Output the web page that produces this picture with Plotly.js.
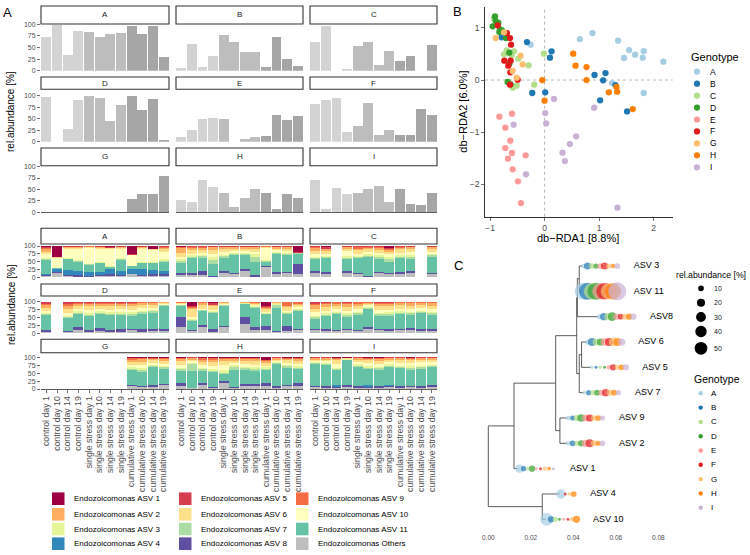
<!DOCTYPE html>
<html><head><meta charset="utf-8">
<script src="https://cdn.plot.ly/plotly-3.0.1.min.js"></script>
<style>body{margin:0;background:#fff}#chart{width:750px;height:555px}</style>
</head><body><div id="chart"></div>
<script>
const W=750,H=555;
// ---------- data ----------
const genotypes=['A','B','C','D','E','F','G','H','I'];
const samples=['control day 1','control day 10','control day 14','control day 19','single stress day 1','single stress day 10','single stress day 14','single stress day 19','cumulative stress day 1','cumulative stress day 10','cumulative stress day 14','cumulative stress day 19'];
const sampleTreatment=[0,0,0,0,1,1,1,1,2,2,2,2];
// total Endozoicomonas relative abundance per genotype (12 samples each)
const totA=[73,98,34,86,83,72,79,81,97,78,96,29];
const totB=[6,58,8,32,77,62,40,41,9,72,26,11];
const totC=[62,96,0,4,53,61,12,42,21,32,0,55];
const totD=[97,0,27,91,100,96,44,79,100,70,93,4];
const totE=[11,25,50,51,50,0,5,11,13,59,47,56];
const totF=[83,91,96,22,34,84,15,26,15,15,72,57];
const totG=[0,0,0,0,0,0,0,0,29,39,39,80];
const totH=[28,22,71,55,42,11,32,51,42,7,39,31];
const totI=[71,7,54,41,42,50,58,23,50,18,15,43];
// stack order (bottom -> top)
const asvNames=['Endozoicomonas Others','Endozoicomonas ASV 8','Endozoicomonas ASV 4','Endozoicomonas ASV 11','Endozoicomonas ASV 7','Endozoicomonas ASV 3','Endozoicomonas ASV 10','Endozoicomonas ASV 6','Endozoicomonas ASV 2','Endozoicomonas ASV 9','Endozoicomonas ASV 5','Endozoicomonas ASV 1'];
const asvColors=['#BEBEBE','#5E4FA2','#3288BD','#66C2A5','#ABDDA4','#E6F598','#FFFFBF','#FEE08B','#FDAE61','#F46D43','#D53E4F','#9E0142'];
const Z=[0,0,0,0,0,0,0,0,0,0,0,0];
const compA=[[5,3,4,43,3,4,11,9,8,5,2,3],[15,2,10,3,0,0,32,2,0,0,1,35],[3,5,14,36,2,2,30,3,2,1,1,1],[2,6,12,30,2,3,37,3,2,1,1,1],[2,3,13,22,1,2,50,3,2,1,0,1],[3,5,10,27,1,2,44,3,2,1,1,1],[3,7,17,5,1,2,56,2,1,1,1,4],[3,5,12,36,2,3,30,4,2,1,1,1],[10,2,13,10,0,1,34,1,0,0,2,27],[3,5,17,20,1,2,44,3,2,1,1,1],[5,7,10,23,1,2,40,2,1,0,1,8],[5,5,10,30,3,4,23,10,5,3,1,1]];
const compB=[[8,7,0,30,8,5,8,12,15,3,2,2],[7,7,0,47,5,4,6,10,8,3,2,1],[8,12,0,42,5,5,6,10,7,3,1,1],[2,2,0,40,12,8,10,12,10,2,1,1],[15,5,0,42,5,5,8,10,6,2,1,1],[10,5,0,55,4,4,6,8,5,1,1,1],[20,5,0,45,5,4,6,7,5,1,1,1],[2,6,0,42,15,8,8,10,6,1,1,1],[32,3,0,15,2,3,40,2,1,1,0,1],[12,6,0,57,3,3,5,6,5,1,1,1],[15,3,0,52,4,4,6,7,6,1,1,1],[10,32,0,33,2,2,0,0,0,0,3,18]];
const compC=[[15,5,0,38,4,4,8,10,10,3,2,1],[10,8,0,44,3,4,6,10,5,2,5,3],Z,[15,5,0,40,3,5,15,8,5,2,1,1],[12,3,0,47,3,4,6,12,5,6,1,1],[2,3,0,60,4,4,8,8,6,3,1,1],[15,2,0,43,5,5,8,10,6,3,2,1],[10,5,0,35,8,6,10,8,6,3,4,5],[12,4,0,45,5,5,8,10,6,3,1,1],[15,5,0,40,5,5,10,10,6,2,1,1],Z,[10,3,0,52,5,4,8,8,6,2,1,1]];
const compD=[[5,6,0,46,3,4,6,10,8,5,5,2],Z,[3,5,0,40,3,4,10,12,10,6,5,2],[10,10,0,40,4,5,8,10,7,3,2,1],[5,7,0,43,4,5,10,11,8,4,2,1],[8,8,0,44,4,5,8,10,7,3,2,1],[5,7,0,45,4,5,9,10,8,4,2,1],[5,10,0,43,4,5,9,10,7,4,2,1],[10,5,0,40,5,6,9,10,8,4,2,1],[5,8,0,49,4,5,8,9,7,3,1,1],[8,7,0,50,4,4,7,8,7,3,1,1],[8,7,0,72,2,2,2,3,2,1,1,0]];
const compE=[[20,30,0,35,3,2,2,3,2,2,1,0],[8,4,0,28,3,2,5,28,2,2,4,14],[20,5,0,45,3,2,3,12,5,3,1,1],[5,8,0,52,3,3,4,10,3,2,5,5],[20,3,0,62,3,2,3,3,2,1,1,0],Z,[30,20,0,42,2,1,1,1,1,1,1,0],[10,10,0,60,4,3,3,4,3,2,1,0],[12,10,0,38,2,2,4,8,4,3,2,15],[5,1,0,74,10,2,2,2,2,1,1,0],[8,14,0,40,3,3,4,10,3,13,1,1],[10,5,0,57,3,3,4,6,4,6,1,1]];
const compF=[[10,5,0,30,5,6,10,12,10,6,4,2],[8,6,0,40,4,5,9,11,9,5,2,1],[7,5,0,48,4,4,8,10,8,4,1,1],[10,5,0,38,5,5,9,11,9,5,2,1],[7,5,0,47,4,5,8,10,8,4,1,1],[15,5,0,58,3,3,4,5,4,2,1,0],[10,5,0,40,5,5,9,11,8,4,2,1],[8,6,0,42,5,5,9,10,8,4,2,1],[10,5,0,45,5,5,8,10,7,3,1,1],[12,6,0,40,5,5,9,10,8,3,1,1],[8,5,0,50,4,5,8,9,7,2,1,1],[6,7,0,45,5,5,9,10,8,3,1,1]];
const compG=[Z,Z,Z,Z,Z,Z,Z,Z,[8,6,0,46,4,5,7,10,7,4,2,1],[6,5,0,44,5,6,9,11,8,4,1,1],[7,5,0,58,3,4,6,7,5,3,1,1],[12,4,0,48,4,5,7,8,6,4,1,1]];
const compH=[[10,8,0,40,4,5,10,11,7,3,1,1],[3,0,0,55,20,5,5,5,4,2,1,0],[12,8,0,38,4,5,8,10,8,5,1,1],[2,4,0,48,4,5,9,12,8,5,2,1],[20,4,0,22,6,8,15,12,8,3,1,1],[3,2,0,55,10,5,6,8,6,3,1,1],[10,6,0,45,4,5,8,10,7,3,1,1],[10,6,0,42,5,5,9,10,8,3,1,1],[10,8,0,42,4,4,6,8,5,3,3,7],[3,7,0,68,3,3,4,5,4,2,1,0],[8,6,0,53,4,4,7,8,6,2,1,1],[10,10,0,42,4,5,8,9,7,3,1,1]];
const compI=[[5,5,0,68,3,3,4,5,4,2,1,0],[4,4,0,67,3,4,5,6,4,2,1,0],[3,3,8,45,3,4,14,10,6,2,1,1],[5,7,0,78,2,2,2,2,1,0,0,1],[3,5,0,62,4,4,8,7,4,2,1,0],[3,2,7,50,4,5,10,9,6,2,1,1],[4,6,0,50,5,5,9,10,7,2,1,1],[5,5,3,55,5,5,8,7,5,1,1,0],[4,5,0,56,4,5,9,8,6,2,1,0],[5,5,0,50,5,6,10,9,6,2,1,1],[4,4,0,55,5,6,12,7,4,2,1,0],[5,8,0,55,4,4,8,8,5,2,1,0]];
// panel B: db-RDA scores per genotype
const rdaX={A:[0.646,0.878,-0.256,1.348,1.549,1.659,1.817,1.799,1.457,2.177,1.238,1.817],
B:[-0.323,0.128,0.098,-0.787,0.915,1.116,1.073,1.299,-0.226,0.012,1.018,1.512],
C:[-0.927,-0.695,-0.744,-0.604,-0.561,-0.482,-0.293,-0.012,-0.189,-0.585,-0.512],
D:[-0.909,-0.896,-0.951,-0.817,-0.829,-0.707,-0.646,-0.646,-0.677,-0.622,-0.848,-0.780],
E:[-0.829,-0.598,-0.720,-0.628,-0.720,-0.671,-0.598,-0.585,-0.348,-0.488,-0.433],
F:[-0.860,-0.689,-0.634,-0.616,-0.738,-0.622,-0.628,-0.665,-0.494,-0.634],
G:[-0.896,-0.744,-0.439,-0.402,-0.585,-0.512],
H:[0.524,0.567,0.768,0.768,-0.043,0.000,1.177,1.317,1.329,1.616],
I:[0.171,0.012,0.030,-0.567,0.909,0.579,0.463,0.329,0.372,-0.341,1.335]};
const rdaY={A:[0.786,0.901,0.677,0.754,0.575,0.486,0.556,0.428,0.422,0.351,-0.058,-0.249],
B:[0.728,0.550,0.428,0.818,0.096,0.134,-0.006,-0.096,-0.249,-0.236,-0.390,-0.601],
C:[1.176,0.569,0.492,0.473,0.550,0.409,0.281,0.505,-0.089,-0.147,-0.109],
D:[1.220,1.131,1.029,0.971,0.920,0.805,0.524,0.313,-0.038,-0.083,1.093,0.952],
E:[-0.703,-0.645,-0.914,-1.163,-1.304,-1.508,-1.399,-1.712,-1.444,-1.942,-2.358],
F:[1.048,0.901,0.805,0.677,0.371,0.371,0.147,0.275,0.006,-0.089],
G:[0.805,0.914,0.466,0.300,0.173,0.045],
H:[0.505,0.275,0.249,0.000,0.000,-0.396,-0.236,-0.134,-0.224,-0.556],
I:[-0.364,-0.633,-0.831,-0.856,-0.530,-1.080,-1.227,-1.393,-1.553,-1.808,-2.447]};
// panel C: tree (name, parent, depth) and per-genotype abundance at each tip
const tipOrder=['ASV 3','ASV 11','ASV8','ASV 6','ASV 5','ASV 7','ASV 9','ASV 2','ASV 1','ASV 4','ASV 10'];
const treeNodes=[['root',null,0],['n2','root',0.0254],['ASV 4','n2',0.0337],['ASV 10','n2',0.0270],
['n1','root',0.0121],['ASV 1','n1',0.0141],['n3','n1',0.0317],['n4','n3',0.0337],['ASV 9','n4',0.0372],['ASV 2','n4',0.0372],
['n5','n3',0.0416],['n6','n5',0.0419],['n611','n6',0.0428],['ASV 3','n611',0.0442],['ASV 11','n611',0.0442],['ASV8','n6',0.0518],
['n7','n5',0.0428],['n65','n7',0.0439],['ASV 6','n65',0.0463],['ASV 5','n65',0.0482],['ASV 7','n7',0.0447]];
const tipAbund={'ASV 3':[3,8,5,4,5,8,4,3,5],'ASV 11':[45,45,40,45,40,42,40,40,50],'ASV8':[4,8,8,12,6,5,5,6,6],
'ASV 6':[4,10,8,8,10,10,12,10,8],'ASV 5':[1,1,2,1,3,6,4,5,6],'ASV 7':[2,4,4,5,5,8,6,5,4],'ASV 9':[3,4,6,9,7,8,5,5,4],
'ASV 2':[3,5,4,6,8,10,6,4,5],'ASV 1':[10,4,2,6,1,1,3,2,1],'ASV 4':[14,0,0,0,0,1,2,5,0],'ASV 10':[25,6,4,1,1,1,3,8,0]};
const sizeLegendVals=[10,20,30,40,50];

// ---------- style ----------
const genoColors=['#A6CEE3','#1F78B4','#B2DF8A','#33A02C','#FB9A99','#E31A1C','#FDBF6F','#FF7F00','#CAB2D6'];
const greys=['#d3d3d3','#bdbdbd','#a6a6a6'];
const FONT='Liberation Sans, Arial, sans-serif';
const cols=[[41,169],[176,303],[310,437]];
const greyRows=[{st:6,sb:24,pt:24,pb:70.7,ym:100.5},{st:77,sb:89.3,pt:89.3,pb:141.7,ym:113.9},{st:148,sb:165.7,pt:165.7,pb:212.3,ym:102}];
const stackRows=[{st:228.3,sb:244,pt:244,pb:277.3,ym:106.4},{st:284,sb:296,pt:296,pb:333.3,ym:118},{st:339.3,sb:352.7,pt:352.7,pb:389,ym:114.5}];

const data=[],shapes=[],annotations=[];
const layout={width:W,height:H,margin:{l:0,r:0,t:0,b:0},paper_bgcolor:'#fff',plot_bgcolor:'rgba(0,0,0,0)',
 showlegend:false,barmode:'stack',bargap:0.07,font:{family:FONT,color:'#000'},shapes,annotations};
let ax=0;
function addAxes(xd,yd,xo,yo){ax++;const s=ax===1?'':ax;
 layout['xaxis'+s]=Object.assign({domain:xd,anchor:'y'+s,showgrid:false,zeroline:false,fixedrange:true},xo);
 layout['yaxis'+s]=Object.assign({domain:yd,anchor:'x'+s,showgrid:false,zeroline:false,fixedrange:true},yo);
 return ['x'+s,'y'+s];}
const PX=x=>x/W, PY=y=>1-y/H;
function strip(x0,x1,y0,y1,label){
 shapes.push({type:'rect',xref:'paper',yref:'paper',x0:PX(x0),x1:PX(x1),y0:PY(y1),y1:PY(y0),line:{color:'#333333',width:1.1},fillcolor:'#ffffff',layer:'above'});
 annotations.push({xref:'paper',yref:'paper',x:PX((x0+x1)/2),y:PY((y0+y1)/2),text:label,showarrow:false,font:{size:8,color:'#1a1a1a'},xanchor:'center',yanchor:'middle'});}
function txt(x,y,t,size,opt){annotations.push(Object.assign({xref:'paper',yref:'paper',x:PX(x),y:PY(y),text:t,showarrow:false,font:{size:size,color:'#000'},xanchor:'left',yanchor:'middle'},opt||{}));}

const totals=[totA,totB,totC,totD,totE,totF,totG,totH,totI];
const comps=[compA,compB,compC,compD,compE,compF,compG,compH,compI];
function xOpts(show,line){return {type:'category',categoryorder:'array',categoryarray:samples,range:[-0.5,11.5],
 tickmode:'linear',tick0:0,dtick:1,
 showticklabels:show,ticks:show?'outside':'',ticklen:3,tickcolor:'#333',tickwidth:0.7,tickangle:-90,tickfont:{size:8.7,color:'#4d4d4d'},
 showline:line,linecolor:'#333',linewidth:0.8};}
function yOpts(c,ym){return {range:[0,ym],tickvals:[0,25,50,75,100],ticks:c===0?'outside':'',ticklen:3,tickcolor:'#333',tickwidth:0.7,
 showticklabels:c===0,tickfont:{size:7,color:'#4d4d4d'}};}
// grey bars
greyRows.forEach((row,r)=>{cols.forEach((cx,c)=>{const g=r*3+c;
 const [xs,ys]=addAxes([PX(cx[0]),PX(cx[1])],[PY(row.pb),PY(row.pt)],xOpts(false,r===2),yOpts(c,row.ym));
 data.push({type:'bar',x:samples,y:totals[g],xaxis:xs,yaxis:ys,marker:{color:sampleTreatment.map(t=>greys[t])},hoverinfo:'skip'});
 strip(cx[0],cx[1],row.st,row.sb,genotypes[g]);});});
// stacked bars
stackRows.forEach((row,r)=>{cols.forEach((cx,c)=>{const g=r*3+c;
 const [xs,ys]=addAxes([PX(cx[0]),PX(cx[1])],[PY(row.pb),PY(row.pt)],xOpts(r===2,r===2),yOpts(c,row.ym));
 asvNames.forEach((nm,k)=>{data.push({type:'bar',x:samples,y:comps[g].map(b=>b[k]),xaxis:xs,yaxis:ys,marker:{color:asvColors[k]},hoverinfo:'skip'});});
 strip(cx[0],cx[1],row.st,row.sb,genotypes[g]);});});
// y titles panel A
txt(11,112,'rel.abundance [%]',10,{textangle:-90,xanchor:'center'});
txt(11,305,'rel.abundance [%]',10,{textangle:-90,xanchor:'center'});
// legend panel A
const legNames=[['Endozoicomonas ASV 1','Endozoicomonas ASV 2','Endozoicomonas ASV 3','Endozoicomonas ASV 4'],
['Endozoicomonas ASV 5','Endozoicomonas ASV 6','Endozoicomonas ASV 7','Endozoicomonas ASV 8'],
['Endozoicomonas ASV 9','Endozoicomonas ASV 10','Endozoicomonas ASV 11','Endozoicomonas Others']];
const legX=[52,179,296],legY=[498.7,514.3,529,543.7];
legNames.forEach((col,ci)=>col.forEach((nm,ri)=>{const k=asvNames.indexOf(nm);
 shapes.push({type:'rect',xref:'paper',yref:'paper',x0:PX(legX[ci]),x1:PX(legX[ci]+12.5),y0:PY(legY[ri]+6.3),y1:PY(legY[ri]-6.3),line:{width:0},fillcolor:asvColors[k]});
 txt(legX[ci]+19.5,legY[ri],nm,8);}));

// panel B
{const [xs,ys]=addAxes([PX(485),PX(672.7)],[PY(216.7),PY(7)],
 {range:[-1.092,2.348],tickvals:[-1,0,1,2],ticktext:['\u22121','0','1','2'],ticks:'outside',ticklen:3,tickcolor:'#333',tickwidth:0.7,tickfont:{size:8.5,color:'#4d4d4d'},showline:true,linecolor:'#000',linewidth:0.8},
 {range:[-2.62,1.40],tickvals:[-2,-1,0,1],ticktext:['\u22122','\u22121','0','1'],ticks:'outside',ticklen:3,tickcolor:'#333',tickwidth:0.7,tickfont:{size:8.5,color:'#4d4d4d'},showline:true,linecolor:'#000',linewidth:0.8});
 shapes.push({type:'line',xref:xs+' domain',yref:ys,x0:0,x1:1,y0:0,y1:0,line:{color:'#b0b0b0',width:0.9,dash:'dot'},layer:'below'});
 shapes.push({type:'line',xref:xs,yref:ys+' domain',x0:0,x1:0,y0:0,y1:1,line:{color:'#b0b0b0',width:0.9,dash:'dot'},layer:'below'});
 genotypes.forEach((g,i)=>data.push({type:'scatter',mode:'markers',x:rdaX[g],y:rdaY[g],xaxis:xs,yaxis:ys,marker:{size:6.3,color:genoColors[i]},hoverinfo:'skip',cliponaxis:false}));
 txt(577.7,237.5,'db\u2212RDA1 [8.8%]',11,{xanchor:'center'});
 txt(462.7,112,'db\u2212RDA2 [6.0%]',11,{textangle:-90,xanchor:'center'});
 txt(689,57,'Genotype',11);
 genotypes.forEach((g,i)=>{const cy=71.7+i*11.95;
  shapes.push({type:'circle',xref:'paper',yref:'paper',x0:PX(697-3.1),x1:PX(697+3.1),y0:PY(cy+3.1),y1:PY(cy-3.1),line:{width:0},fillcolor:genoColors[i]});
  txt(707.5,cy,g,8.5);});
}

// panel C: tree
{const x0px=488.3,unitPx=2125,tipTop=266,tipStep=25.33;
 const xr=[(470-x0px)/unitPx,(690-x0px)/unitPx];
 const yr=[1+(532-tipTop)/tipStep,1+(255-tipTop)/tipStep];
 const [xs,ys]=addAxes([PX(470),PX(690)],[PY(532),PY(255)],
  {range:xr,tickvals:[0,0.02,0.04,0.06,0.08],ticktext:['0.00','0.02','0.04','0.06','0.08'],ticks:'',tickfont:{size:6.5,color:'#4d4d4d'},showline:false},
  {range:yr,showticklabels:false,ticks:'',showline:false});
 const node={};treeNodes.forEach(([n,p,d])=>node[n]={name:n,parent:p,depth:d,children:[]});
 treeNodes.forEach(([n,p])=>{if(p)node[p].children.push(node[n]);});
 function yOf(nd){if(!nd.children.length){nd.y=tipOrder.indexOf(nd.name)+1;}else{nd.children.forEach(yOf);nd.y=nd.children.reduce((s,c)=>s+c.y,0)/nd.children.length;}return nd.y;}
 yOf(node.root);
 const lx=[],ly=[];
 Object.values(node).forEach(nd=>{
  if(nd.parent){lx.push(node[nd.parent].depth,nd.depth,null);ly.push(nd.y,nd.y,null);}
  if(nd.children.length){const ys2=nd.children.map(c=>c.y);lx.push(nd.depth,nd.depth,null);ly.push(Math.min(...ys2),Math.max(...ys2),null);}
 });
 data.push({type:'scatter',mode:'lines',x:lx,y:ly,xaxis:xs,yaxis:ys,line:{color:'#333333',width:0.8},hoverinfo:'skip',cliponaxis:false});
 // dots: non-zero genotypes placed one after another to the right of each tip
 const dotOff=0.0005,dotStep=0.002,labelGap=0.0078;
 const pos={},lastX={};
 tipOrder.forEach(t=>{let k=0;pos[t]=tipAbund[t].map(v=>v>0?node[t].depth+dotOff+(k++)*dotStep:null);lastX[t]=node[t].depth+dotOff+(k-1)*dotStep;});
 genotypes.forEach((g,j)=>{const X=[],Y=[],S=[];
  tipOrder.forEach(t=>{const v=tipAbund[t][j];if(v>0){X.push(pos[t][j]);Y.push(node[t].y);S.push(v);}});
  data.push({type:'scatter',mode:'markers',x:X,y:Y,xaxis:xs,yaxis:ys,marker:{size:S,sizemode:'area',sizeref:0.309,sizemin:1.5,color:genoColors[j],line:{width:0}},hoverinfo:'skip',cliponaxis:false});});
 data.push({type:'scatter',mode:'text',x:tipOrder.map(t=>lastX[t]+labelGap),y:tipOrder.map(t=>node[t].y),text:tipOrder,
  textposition:'middle right',textfont:{size:9,color:'#000',family:FONT},xaxis:xs,yaxis:ys,hoverinfo:'skip',cliponaxis:false});
 // legends
 txt(673.5,275,'rel.abundance [%]',8.7);
 const sy=[288.3,302.7,317,331.5,348.3];
 sizeLegendVals.forEach((v,i)=>{const d=Math.sqrt(v/0.309);
  shapes.push({type:'circle',xref:'paper',yref:'paper',x0:PX(701-d/2),x1:PX(701+d/2),y0:PY(sy[i]+d/2),y1:PY(sy[i]-d/2),line:{width:0},fillcolor:'#000'});
  txt(711.7,sy[i],String(v),7,{font:{size:7,color:'#1a1a1a'}});});
 txt(692.3,379.3,'Genotype',10.5);
 genotypes.forEach((g,i)=>{const cy=393.3+i*14.3;
  shapes.push({type:'circle',xref:'paper',yref:'paper',x0:PX(700.7-2.2),x1:PX(700.7+2.2),y0:PY(cy+2.2),y1:PY(cy-2.2),line:{width:0},fillcolor:genoColors[i]});
  txt(709,cy,g,8);});
}
// panel letters
txt(1,12.5,'A',13);txt(451,11.5,'B',13);txt(451.5,265,'C',13);

Plotly.newPlot('chart',data,layout,{staticPlot:true});
</script></body></html>
